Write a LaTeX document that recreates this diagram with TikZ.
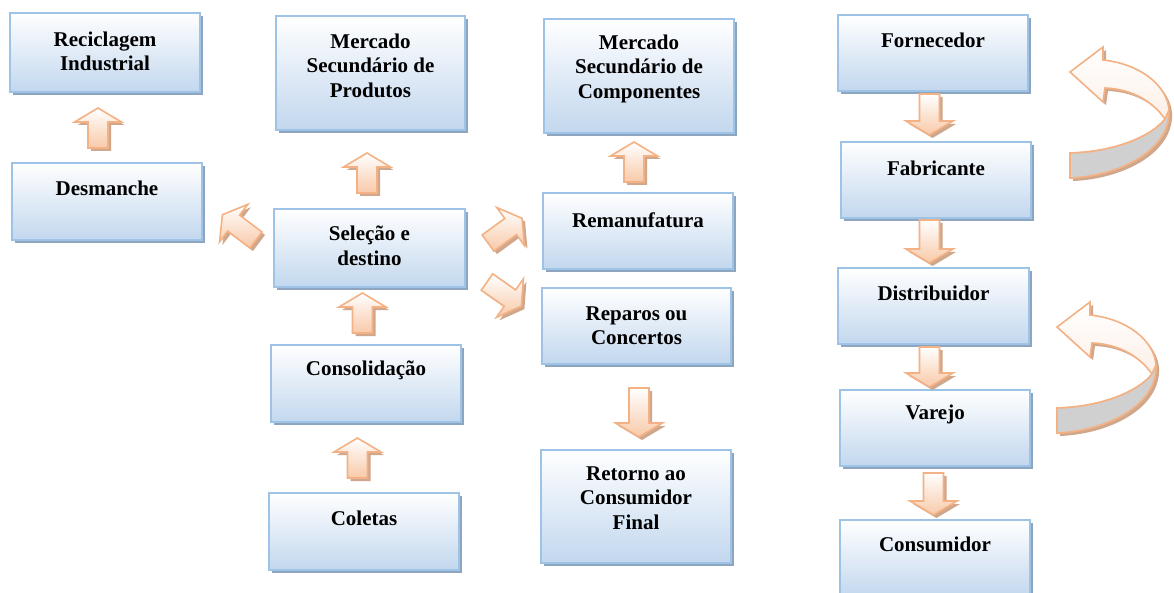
\documentclass[tikz,border=0pt]{standalone}
\usepackage{fontspec}
\setmainfont{Liberation Serif}
\usetikzlibrary{shadows}
\definecolor{boxline}{HTML}{9DC3E6}
\definecolor{boxtop}{HTML}{FFFFFF}
\definecolor{boxbot}{HTML}{C2D7EE}
\definecolor{boxshadow}{HTML}{8DA5BE}
\definecolor{arrline}{HTML}{F4B183}
\definecolor{arrbot}{HTML}{F8C9A8}
\definecolor{ribbot}{HTML}{FBE3D3}
\definecolor{arrshadow}{HTML}{CFA78C}
\definecolor{ribgray}{HTML}{D0D0D0}
\tikzset{
 box/.style={draw=boxline, line width=2pt, top color=boxtop, bottom color=boxbot, inner sep=0pt,
   drop shadow={shadow xshift=3pt, shadow yshift=-3pt, fill=boxshadow, opacity=1}},
 lbl/.style={font=\fontsize{21}{24.5}\selectfont\bfseries, align=center, inner sep=0pt},
 arrbody/.style={draw=arrline, line width=1.6pt, top color=white, bottom color=arrbot, line join=miter},
 arrshad/.style={fill=arrshadow},
 ribbody/.style={draw=arrline, line width=1.6pt, top color=white, bottom color=ribbot, line join=miter},
 ribgrey/.style={draw=arrline, line width=1.6pt, fill=ribgray, line join=round},
}
\newcommand\mybox[7]{%
 \node[box, minimum width={#4-#2}, minimum height={#5-#3}] (#1) at ({(#2+#4)/2},{(#3+#5)/2}) {};
 \node[lbl] (#1-t) at ({(#2+#4)/2},#6) {#7};}
\newcommand\myarr[4]{%
 \begin{scope}[shift={({#1+3},{#2+3})},rotate=#3]
   \fill[arrshad] (0,-10) -- ({#4-14},-10) -- ({#4-14},-23.5) -- (#4,0) -- ({#4-14},23.5) -- ({#4-14},10) -- (0,10) -- cycle;
 \end{scope}
 \begin{scope}[shift={(#1,#2)},rotate=#3]
   \path[arrbody] (0,-10) -- ({#4-14},-10) -- ({#4-14},-23.5) -- (#4,0) -- ({#4-14},23.5) -- ({#4-14},10) -- (0,10) -- cycle;
 \end{scope}}
\newcommand\mycurv[2]{%
 \begin{scope}[shift={({#1+3},{#2+3})}]
  \fill[arrshadow] (1103,60) .. controls (1140,64) and (1167,85) .. (1169,110)
    .. controls (1171,150) and (1120,176) .. (1070,178) -- (1070,153)
    .. controls (1115,152) and (1152,136) .. (1165,119)
    .. controls (1150,98) and (1128,89) .. (1105,88) -- (1103,102) -- (1070,72) -- (1103,47) -- cycle;
 \end{scope}
 \begin{scope}[shift={(#1,#2)}]
  \path[ribbody] (1103,60) .. controls (1140,64) and (1167,85) .. (1169,110)
    .. controls (1171,150) and (1120,176) .. (1070,178) -- (1070,153)
    .. controls (1115,152) and (1152,136) .. (1165,119)
    .. controls (1150,98) and (1128,89) .. (1105,88) -- (1103,102) -- (1070,72) -- (1103,47) -- cycle;
  \path[ribgrey] (1169,110) .. controls (1171,150) and (1120,176) .. (1070,178) -- (1070,153)
    .. controls (1115,152) and (1152,136) .. (1165,119) -- cycle;
 \end{scope}}
\begin{document}
\begin{tikzpicture}[x=1pt,y=-1pt]
\useasboundingbox (0,0) rectangle (1174,593);
\clip (0,0) rectangle (1174,593);
\fill[white] (0,0) rectangle (1174,593);
% boxes
\mybox{recic}{10}{13}{200}{92}{51.5}{Reciclagem\\Industrial}
\mybox{desm}{12}{163}{202}{240}{188}{Desmanche}
\mybox{prod}{276}{16}{465}{130}{65.5}{Mercado\\Secundário de\\Produtos}
\mybox{selec}{274}{209}{465}{287}{246}{Seleção e\\destino}
\mybox{consol}{271}{345}{461}{422}{370}{Consolidação}
\mybox{colet}{269}{493}{459}{570}{518}{Coletas}
\mybox{comp}{544}{19}{734}{133}{68.5}{Mercado\\Secundário de\\Componentes}
\mybox{reman}{543}{193}{733}{269}{220}{Remanufatura}
\mybox{repar}{542}{288}{731}{364}{325.5}{Reparos ou\\Concertos}
\mybox{retor}{541}{450}{731}{563}{498}{Retorno ao\\Consumidor\\Final}
\mybox{forn}{838}{15}{1028}{91}{40}{Fornecedor}
\mybox{fabr}{841}{142}{1031}{218}{168}{Fabricante}
\mybox{distr}{838}{268}{1029}{344}{293}{Distribuidor}
\mybox{varej}{840}{390}{1030}{466}{414}{Varejo}
\mybox{consu}{840}{520}{1030}{597}{544}{Consumidor}
% up arrows
\myarr{98}{148}{90}{40}
\myarr{367}{193}{90}{40}
\myarr{362.5}{333}{90}{40}
\myarr{357.5}{478}{90}{40}
\myarr{634}{182}{90}{40}
% down arrows
\myarr{639}{388}{-90}{49}
\myarr{929.5}{94}{-90}{41}
\myarr{929.5}{220}{-90}{43}
\myarr{929.5}{347}{-90}{40}
\myarr{933.5}{473}{-90}{42}
% diagonal arrows
\myarr{256}{240}{143}{42}
\myarr{488}{243}{36}{42}
\myarr{487}{282}{-35}{42}
% curved arrows
\mycurv{0}{0}
\mycurv{-13}{255}
\end{tikzpicture}
\end{document}
